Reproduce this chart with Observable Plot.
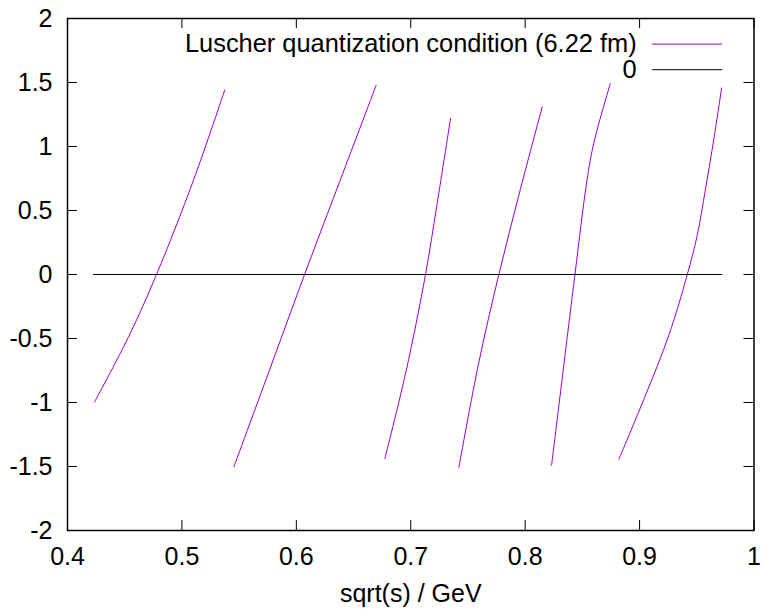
<!DOCTYPE html>
<html>
<head>
<meta charset="utf-8">
<script src="https://cdn.jsdelivr.net/npm/d3@7"></script>
<script src="https://cdn.jsdelivr.net/npm/@observablehq/plot@0.6"></script>
<style>
  html, body { margin: 0; padding: 0; background: white; }
</style>
</head>
<body>
<div id="chart"></div>
<script>
// ---- data ----
const sqrtS1 = [0.4236, 0.4532, 0.4778, 0.5100, 0.5375];
const cond1  = [-0.997, -0.49, 0.0, 0.734, 1.443];

const sqrtS2 = [0.5454, 0.5760, 0.6072, 0.6385, 0.6698];
const cond2  = [-1.503, -0.76, 0.0, 0.74, 1.479];

const sqrtS3 = [0.6774, 0.6958, 0.7129, 0.7228, 0.7348];
const cond3  = [-1.4375, -0.76, 0.0, 0.54, 1.219];

const sqrtS4 = [0.7420, 0.7590, 0.7770, 0.7960, 0.8149];
const cond4  = [-1.51, -0.708, 0.0, 0.672, 1.31];

const sqrtS5 = [0.8231, 0.8435, 0.8534, 0.8586, 0.8644, 0.8744];
const cond5  = [-1.49, 0.0, 0.698, 0.971, 1.18, 1.492];

const sqrtS6 = [0.8819, 0.9052, 0.9256, 0.9417, 0.9504, 0.9577, 0.9650, 0.9717];
const cond6  = [-1.443, -0.943, -0.474, 0.0, 0.307, 0.672, 1.0625, 1.458];

const zeroX = [0.4227, 0.9720];
const zeroY = [0, 0];

const xTicks = [0.4, 0.5, 0.6, 0.7, 0.8, 0.9, 1.0];
const yTicks = [-2, -1.5, -1, -0.5, 0, 0.5, 1, 1.5, 2];

const seriesNames = ["Luscher quantization condition (6.22 fm)", "0"];
const xLabel = "sqrt(s) / GeV";

// ---- build tables ----
const branchesX = [sqrtS1, sqrtS2, sqrtS3, sqrtS4, sqrtS5, sqrtS6];
const branchesY = [cond1, cond2, cond3, cond4, cond5, cond6];
const curve = [];
branchesX.forEach((xs, b) => xs.forEach((s, i) => curve.push({branch: b, s, v: branchesY[b][i]})));
const zero = zeroX.map((s, i) => ({s, v: zeroY[i]}));

const purple = "#9400d3";
const colors = [purple, "black"];
const fontFamily = "'Liberation Sans', Arial, sans-serif";
const fs = 25;

// layout constants (inward tick lengths in data units, legend placement)
const tickLenY = 10 / 128;   // along y
const tickLenX = 10 / 1144;  // along x
const legendTextX = 0.8974, legendX1 = 0.9114, legendX2 = 0.9726;
const legendRowY = [1.800, 1.600];
const legend = seriesNames.map((name, i) => ({name, y: legendRowY[i], color: colors[i]}));

const chart = Plot.plot({
  width: 764,
  height: 609,
  marginLeft: 67,
  marginRight: 10.5,
  marginTop: 18,
  marginBottom: 79,
  x: {domain: [0.4, 1.0], label: null},
  y: {domain: [-2, 2], label: null},
  style: {fontFamily, fontSize: fs + "px", background: "white", color: "black", overflow: "visible"},
  marks: [
    Plot.axisX({ticks: xTicks, tickSize: 0, tickPadding: 17, tickFormat: d => String(d), fontSize: fs, label: null}),
    Plot.axisY({ticks: yTicks, tickSize: 0, tickPadding: 15, tickFormat: d => String(d), fontSize: fs, label: null}),
    // inward ticks on all four sides
    Plot.ruleX(xTicks, {x: d => d, y1: -2, y2: -2 + tickLenY, stroke: "black", strokeWidth: 1}),
    Plot.ruleX(xTicks, {x: d => d, y1: 2, y2: 2 - tickLenY, stroke: "black", strokeWidth: 1}),
    Plot.ruleY(yTicks, {y: d => d, x1: 0.4, x2: 0.4 + tickLenX, stroke: "black", strokeWidth: 1}),
    Plot.ruleY(yTicks, {y: d => d, x1: 1.0, x2: 1.0 - tickLenX, stroke: "black", strokeWidth: 1}),
    // curves
    Plot.line(curve, {x: "s", y: "v", z: "branch", stroke: purple, strokeWidth: 1, curve: "catmull-rom"}),
    Plot.line(zero, {x: "s", y: "v", stroke: "black", strokeWidth: 1}),
    // legend
    Plot.text(legend, {x: legendTextX, y: "y", text: "name", textAnchor: "end", lineAnchor: "middle", fontSize: 25.4, fill: "black"}),
    Plot.ruleY(legend, {y: "y", x1: legendX1, x2: legendX2, stroke: "color", strokeWidth: 1}),
    // x axis title
    Plot.text([xLabel], {text: d => d, frameAnchor: "bottom", lineAnchor: "bottom", dy: 71, fontSize: fs, fill: "black"}),
    Plot.frame({stroke: "black", strokeWidth: 1.5})
  ]
});
document.getElementById("chart").appendChild(chart);
</script>
</body>
</html>
